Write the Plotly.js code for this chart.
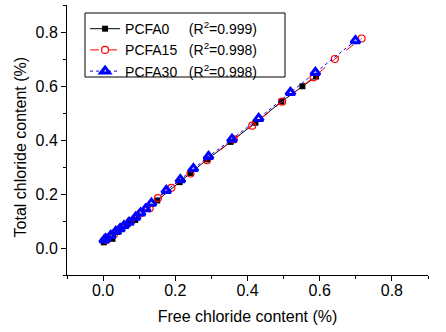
<!DOCTYPE html>
<html>
<head>
<meta charset="utf-8">
<script src="https://cdn.plot.ly/plotly-3.0.1.min.js"></script>
<style>
html,body{margin:0;padding:0;background:#fff;}
#chart{width:446px;height:332px;}
</style>
</head>
<body>
<div id="chart"></div>
<script>
// PCFA0
const freePCFA0 = [0.002, 0.026, 0.043, 0.068, 0.089, 0.150, 0.212, 0.242, 0.288, 0.353, 0.422, 0.494, 0.552, 0.590];
const totalPCFA0 = [0.021, 0.034, 0.061, 0.089, 0.104, 0.176, 0.244, 0.278, 0.328, 0.393, 0.464, 0.542, 0.599, 0.635];
// PCFA15
const freePCFA15 = [0.010, 0.030, 0.050, 0.075, 0.103, 0.129, 0.152, 0.189, 0.242, 0.288, 0.362, 0.413, 0.496, 0.583, 0.642, 0.716];
const totalPCFA15 = [0.030, 0.050, 0.075, 0.100, 0.128, 0.147, 0.185, 0.223, 0.276, 0.325, 0.402, 0.453, 0.542, 0.632, 0.700, 0.776];
// PCFA30
const freePCFA30 = [0.003, 0.007, 0.021, 0.035, 0.047, 0.058, 0.072, 0.090, 0.104, 0.118, 0.134, 0.175, 0.214, 0.250, 0.292, 0.357, 0.431, 0.519, 0.588, 0.699];
const totalPCFA30 = [0.030, 0.034, 0.046, 0.061, 0.071, 0.083, 0.095, 0.114, 0.130, 0.145, 0.166, 0.213, 0.253, 0.294, 0.339, 0.403, 0.480, 0.576, 0.650, 0.768];

const names = ['PCFA0\u00A0\u00A0\u00A0\u00A0\u00A0(R<sup>2</sup>=0.999)', 'PCFA15\u00A0\u00A0\u00A0(R<sup>2</sup>=0.998)', 'PCFA30\u00A0\u00A0\u00A0(R<sup>2</sup>=0.998)'];
const tickVals = [0.0, 0.2, 0.4, 0.6, 0.8];
const tickText = ['0.0', '0.2', '0.4', '0.6', '0.8'];
const xTitle = 'Free chloride content (%)';
const yTitle = 'Total chloride content (%)';

const traces = [
  {x: freePCFA0, y: totalPCFA0, name: names[0], type: 'scatter', mode: 'lines+markers',
   line: {color: '#000000', width: 1, dash: 'solid'},
   marker: {symbol: 'square', size: 6, color: '#000000'}},
  {x: freePCFA15, y: totalPCFA15, name: names[1], type: 'scatter', mode: 'lines+markers',
   line: {color: '#ff0000', width: 1, dash: 'dash'},
   marker: {symbol: 'circle-open', size: 7, color: '#ff0000', line: {width: 1.2}}},
  {x: freePCFA30, y: totalPCFA30, name: names[2], type: 'scatter', mode: 'lines+markers',
   line: {color: '#0000ff', width: 1, dash: 'dot'},
   marker: {symbol: 'triangle-up-open', size: 8, color: '#0000ff', line: {width: 3}}}
];

const fontFam = 'Liberation Sans, Arial, sans-serif';
const layout = {
  width: 446, height: 332,
  margin: {l: 67, r: 18, t: 5, b: 57},
  paper_bgcolor: '#ffffff', plot_bgcolor: '#ffffff',
  font: {family: fontFam, color: '#000000', size: 14},
  showlegend: true,
  xaxis: {
    range: [-0.1, 0.9], showgrid: false, zeroline: false,
    showline: true, linecolor: '#000', linewidth: 1,
    ticks: 'outside', ticklen: 5, tickwidth: 1, tickcolor: '#000',
    tickvals: tickVals, ticktext: tickText,
    tickfont: {size: 16, family: fontFam},
    ticklabelstandoff: -4,
    minor: {ticks: 'outside', ticklen: 3, dtick: 0.1, tick0: 0, tickcolor: '#000', showgrid: false},
    title: {text: xTitle, font: {size: 16, family: fontFam}, standoff: 12}
  },
  yaxis: {
    range: [-0.1, 0.9], showgrid: false, zeroline: false,
    showline: true, linecolor: '#000', linewidth: 1,
    ticks: 'outside', ticklen: 5, tickwidth: 1, tickcolor: '#000',
    tickvals: tickVals, ticktext: tickText,
    tickfont: {size: 16, family: fontFam},
    minor: {ticks: 'outside', ticklen: 3, dtick: 0.1, tick0: 0, tickcolor: '#000', showgrid: false}
  },
  annotations: [{
    text: yTitle, xref: 'paper', yref: 'paper',
    x: (20.7 - 67) / 361, y: (275 - 146.7) / 270,
    xanchor: 'center', yanchor: 'middle', textangle: -90, showarrow: false,
    font: {size: 16, family: fontFam, color: '#000'}
  }],
  shapes: [{
    type: 'rect', xref: 'paper', yref: 'paper', layer: 'above',
    x0: (85 - 67) / 361, x1: (285 - 67) / 361,
    y0: (275 - 77) / 270, y1: (275 - 13) / 270,
    line: {color: '#000', width: 1}, fillcolor: 'rgba(0,0,0,0)'
  }],
  legend: {
    x: 0.05, y: 0.97, xanchor: 'left', yanchor: 'top',
    borderwidth: 0, bgcolor: 'rgba(255,255,255,0)',
    font: {size: 14, family: fontFam}
  }
};

Plotly.newPlot('chart', traces, layout, {displayModeBar: false, staticPlot: true});
</script>
</body>
</html>
